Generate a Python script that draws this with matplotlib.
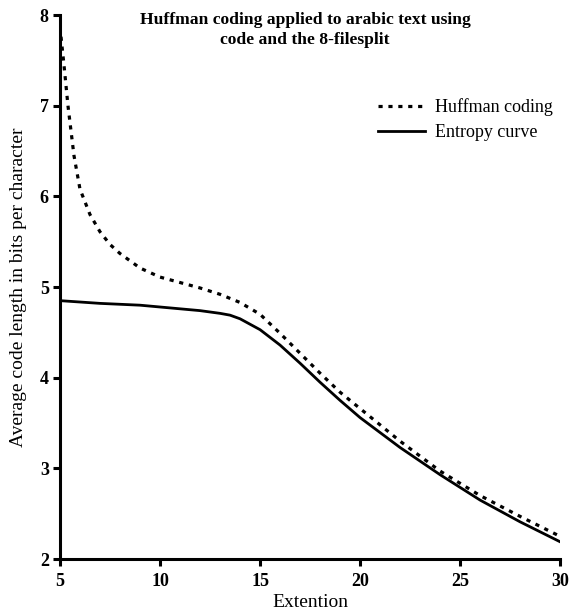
import matplotlib
matplotlib.use("Agg")
import matplotlib.pyplot as plt

plt.rcParams['font.family'] = ['Liberation Serif', 'DejaVu Serif']

huff_x = [5, 5.2, 5.4, 5.7, 6, 6.5, 7, 7.5, 8, 9, 10, 11, 12, 13, 14, 15, 16, 17, 18, 19, 20, 22, 24, 26, 28, 30]
huff_y = [7.87, 7.45, 7.0, 6.45, 6.08, 5.8, 5.61, 5.47, 5.37, 5.21, 5.11, 5.05, 4.99, 4.92, 4.83, 4.70, 4.49, 4.27, 4.05, 3.84, 3.66, 3.30, 2.97, 2.70, 2.47, 2.25]

ent_x = [5, 7, 9, 11, 12, 13, 13.5, 14, 15, 16, 17, 18, 19, 20, 22, 24, 26, 28, 30]
ent_y = [4.85, 4.82, 4.80, 4.76, 4.74, 4.71, 4.69, 4.65, 4.53, 4.36, 4.16, 3.95, 3.75, 3.56, 3.23, 2.93, 2.65, 2.41, 2.19]

title = "Huffman coding applied to arabic text using\ncode and the 8-filesplit"

fig = plt.figure(figsize=(5.69, 6.16), dpi=100)
ax = fig.add_axes([0.1054, 0.0925, 0.879, 0.883])

ax.plot(huff_x, huff_y, color='black', lw=2.3, linestyle=(0, (1.3, 1.8)), label='Huffman coding')
ax.plot(ent_x, ent_y, color='black', lw=2.0, label='Entropy curve')

ax.set_xlim(5, 30)
ax.set_ylim(2, 8)
ax.set_xticks([5, 10, 15, 20, 25, 30])
ax.set_yticks([2, 3, 4, 5, 6, 7, 8])
for s in ['top', 'right']:
    ax.spines[s].set_visible(False)
for s in ['left', 'bottom']:
    ax.spines[s].set_linewidth(2.2)
ax.tick_params(direction='out', length=5, width=2.2, labelsize=13)
ax.tick_params(axis='x', pad=5)
ax.tick_params(axis='y', pad=3)
for lbl in ax.get_xticklabels() + ax.get_yticklabels():
    lbl.set_fontweight('bold')

ax.set_xlabel('Extention', fontsize=14, labelpad=3)
ax.set_ylabel('Average code length in bits per character', fontsize=14, labelpad=9)

ax.text(0.49, 1.006, title, transform=ax.transAxes, ha='center', va='top',
        fontsize=12.6, fontweight='bold', linespacing=1.32)

leg = ax.legend(loc='upper right', bbox_to_anchor=(1.0, 0.86), frameon=False,
                fontsize=13, handlelength=2.6, handletextpad=0.55, labelspacing=0.42,
                borderaxespad=0.0)

fig.savefig('out.png', dpi=100)
